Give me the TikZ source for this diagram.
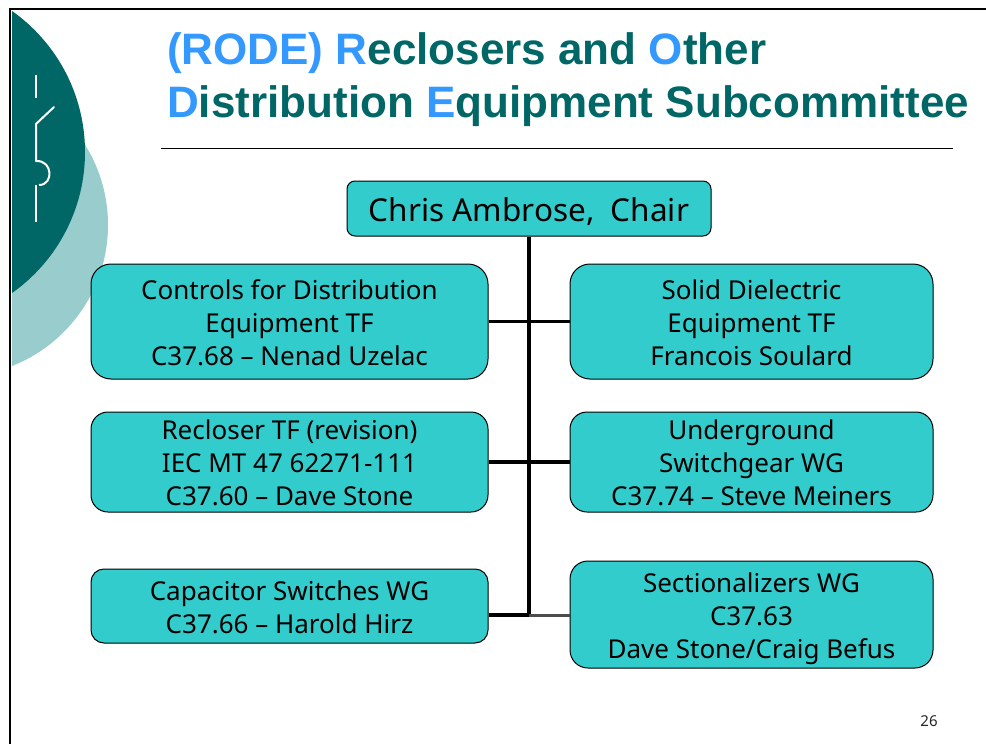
\documentclass[tikz,border=0pt]{standalone}
\usepackage{fontspec}
\setmainfont{Noto Sans}
\newfontfamily\titlefont{Liberation Sans}[BoldFont={Liberation Sans Bold}]
\definecolor{boxfill}{HTML}{33CCCC}
\definecolor{darkteal}{HTML}{006666}
\definecolor{lightteal}{HTML}{99CCCC}
\definecolor{titleblue}{HTML}{3399FF}
\tikzset{
  orgbox/.style={draw=black,line width=1pt,fill=boxfill,align=center,inner sep=0pt,font=\fontsize{26}{33}\selectfont,text=black},
  titletext/.style={anchor=west,inner sep=0pt,font=\titlefont\bfseries\fontsize{44}{50}\selectfont,text=darkteal},
  link/.style={draw=black,line width=3.2pt},
  swline/.style={draw=white,line width=2pt}
}
\newcommand{\tpart}[1]{\textcolor{titleblue}{#1}}
\newcommand{\tsh}[1]{\rule{0pt}{#1pt}}
\begin{document}
\begin{tikzpicture}[x=1pt,y=-1pt]
\useasboundingbox (0,0) rectangle (986,744);
\fill[white] (0,0) rectangle (986,744);
% decoration
\begin{scope}
\clip (12,0) rectangle (300,744);
\fill[lightteal] (-43.5,225) circle[radius=151.5];
\fill[darkteal] (-87.7,152) circle[radius=172.7];
\end{scope}
\draw[swline] (36,75) -- (36,98);
\draw[swline,line cap=round] (54,107) -- (36,124) -- (36,161);
\draw[swline] (36,161) .. controls (53,160) and (54,185) .. (39,185);
\draw[swline] (36,185) -- (36,222);
% frame
\draw[black,line width=2pt] (9.5,744) -- (9.5,9) -- (986,9);
% title
\node[titletext] (t1) at (167,53) {\tpart{(RODE) R}eclosers and \tpart{O}ther};
\node[titletext] (t2) at (167,106) {\tpart{D}istribution \tpart{E}quipment Subcommittee};
\coordinate (ruleL) at (161,148);
\coordinate (ruleR) at (953,148);
\draw[black,line width=1pt] (ruleL) -- (ruleR);
% boxes
\node[orgbox,rounded corners=8pt,minimum width=364pt,minimum height=55pt,font=\fontsize{31.5}{36}\selectfont] (chair) at (529,208.5) {\tsh{30}Chris Ambrose,\ \ Chair};
\node[orgbox,rounded corners=20pt,minimum width=397pt,minimum height=115pt] (ctrl) at (289.5,321.5) {\tsh{23}Controls for Distribution\\Equipment TF\\C37.68 – Nenad Uzelac};
\node[orgbox,rounded corners=20pt,minimum width=363pt,minimum height=115pt] (solid) at (751.5,321.5) {\tsh{23}Solid Dielectric\\Equipment TF\\Francois Soulard};
\node[orgbox,rounded corners=17pt,minimum width=397pt,minimum height=100pt] (recl) at (289.5,462) {\tsh{22}Recloser TF (revision)\\IEC MT 47 62271-111\\C37.60 – Dave Stone};
\node[orgbox,rounded corners=17pt,minimum width=363pt,minimum height=100pt] (ug) at (751.5,462) {\tsh{22}Underground\\Switchgear WG\\C37.74 – Steve Meiners};
\node[orgbox,rounded corners=13pt,minimum width=397pt,minimum height=74pt] (cap) at (289.5,606) {\tsh{22}Capacitor Switches WG\\C37.66 – Harold Hirz};
\node[orgbox,rounded corners=18pt,minimum width=363pt,minimum height=107pt] (sect) at (751.5,614.5) {\tsh{28}Sectionalizers WG\\C37.63\\Dave Stone/Craig Befus};
% connectors
\coordinate (junction) at (529,615);
\draw[link,line width=4pt] (chair.south -| junction) -- (junction);
\draw[link] (ctrl.east) -- (solid.west);
\draw[link] (recl.east) -- (ug.west);
\draw[link,line width=4pt] (cap.east |- junction) -- (junction);
\draw[draw=black!70,line width=3pt] (junction) -- (sect.west |- junction);
\node[font=\fontsize{15}{18}\selectfont,text=black!85] (num) at (929,721) {26};
\end{tikzpicture}
\end{document}
